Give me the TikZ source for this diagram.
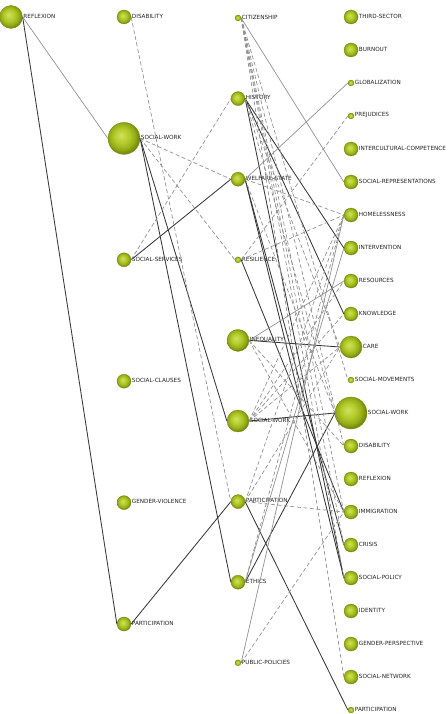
\documentclass[tikz,border=0pt]{standalone}
\usepackage{fontspec}
\newfontfamily\lblfont{DejaVu Sans}
\definecolor{LimeHi}{RGB}{208,226,92}
\definecolor{LimeMid}{RGB}{178,202,42}
\definecolor{LimeLo}{RGB}{150,174,24}
\definecolor{LimeEdge}{RGB}{120,140,14}
\definecolor{EdgeDark}{RGB}{55,55,55}
\definecolor{EdgeGray}{RGB}{145,145,145}
\definecolor{LabelGray}{RGB}{35,35,35}
\pgfdeclareradialshading{limeball}{\pgfqpoint{-5bp}{5bp}}{color(0bp)=(LimeHi); color(12bp)=(LimeMid); color(20bp)=(LimeLo); color(25bp)=(LimeEdge); color(50bp)=(LimeEdge)}

\begin{document}
\begin{tikzpicture}[x=1pt,y=-1pt,
	ball/.style={circle,inner sep=0pt,shading=limeball,draw=LimeEdge,line width=0.3pt},
	lbl/.style={font=\lblfont\fontsize{5.7}{6}\selectfont,text=LabelGray,inner sep=0.6pt,yshift=0.8pt},
	darkedge/.style={EdgeDark,line width=0.85pt},
	grayedge/.style={EdgeGray,line width=0.7pt},
	dashedge/.style={EdgeGray,line width=0.7pt,dash pattern=on 4pt off 2.5pt}]
\useasboundingbox (0,0) rectangle (447,714);
% first period
\node[ball,minimum size=23pt,label={[lbl]east:REFLEXION}] (A1) at (11,17) {};
% second period
\foreach \d/\t [count=\i] in {14/DISABILITY,32/SOCIAL-WORK,14/SOCIAL-SERVICES,
	14/SOCIAL-CLAUSES,14/GENDER-VIOLENCE,14/PARTICIPATION}
	\node[ball,minimum size=\d pt,label={[lbl]east:\t}] (B\i) at (124,{17+121.4*(\i-1)}) {};
% third period
\foreach \d/\t [count=\i] in {6/CITIZENSHIP,14/HISTORY,14/WELFARE-STATE,6/RESILIENCE,
	22/INEQUALITY,22/SOCIAL-WORK,14/PARTICIPATION,14/ETHICS,6/PUBLIC-POLICIES}
	\node[ball,minimum size=\d pt,label={[lbl]east:\t}] (C\i) at (238,{18+80.6*(\i-1)}) {};
% fourth period
\foreach \d/\t [count=\i] in {14/THIRD-SECTOR,14/BURNOUT,6/GLOBALIZATION,6/PREJUDICES,
	14/INTERCULTURAL-COMPETENCE,14/SOCIAL-REPRESENTATIONS,14/HOMELESSNESS,
	14/INTERVENTION,14/RESOURCES,14/KNOWLEDGE,22/CARE,6/SOCIAL-MOVEMENTS,
	32/SOCIAL-WORK,14/DISABILITY,14/REFLEXION,14/IMMIGRATION,14/CRISIS,
	14/SOCIAL-POLICY,14/IDENTITY,14/GENDER-PERSPECTIVE,14/SOCIAL-NETWORK,6/PARTICIPATION}
	\node[ball,minimum size=\d pt,label={[lbl]east:\t}] (D\i) at (351,{17+33*(\i-1)}) {};
% thematic links
\foreach \a/\b in {A1/B6,B2/C6,B2/C8,B3/C3,B6/C7,C2/D8,C2/D10,C2/D18,C3/D17,
	C3/D18,C4/D16,C5/D11,C6/D13,C8/D13,C7/D22}
	\draw[darkedge] (\a.east)--(\b.west);
\foreach \a/\b in {A1/B2,C1/D6,C3/D3,C5/D9,C9/D7,C8/D8}
	\draw[grayedge] (\a.east)--(\b.west);
\foreach \a/\b in {B1/C7,B2/C3,B2/C4,B3/C2,C1/D12,C1/D14,C1/D16,C1/D17,C1/D18,
	C1/D21,C2/D11,C2/D13,C3/D7,C3/D13,C4/D4,C4/D7,C5/D14,C5/D16,C6/D7,C6/D9,
	C6/D10,C6/D11,C7/D7,C7/D16,C7/D11,C8/D7,C9/D16}
	\draw[dashedge] (\a.east)--(\b.west);
\end{tikzpicture}
\end{document}
